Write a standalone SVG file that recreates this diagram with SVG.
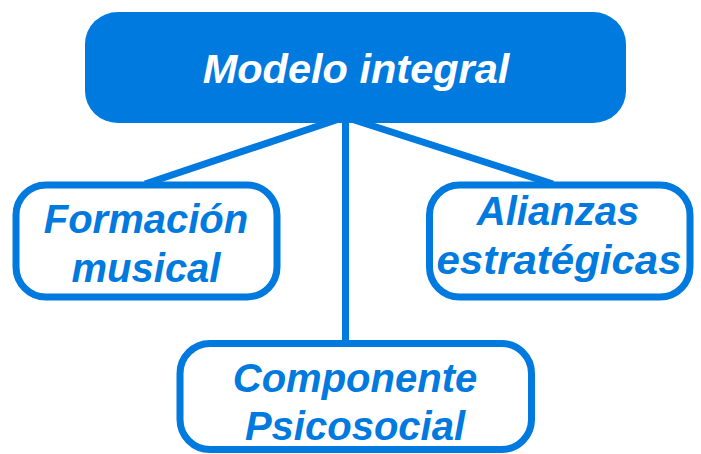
<svg xmlns="http://www.w3.org/2000/svg" width="701" height="454" viewBox="0 0 701 454">
<style>
.conn{stroke:#007ADE;stroke-width:7;fill:none}
.box{fill:#fff;stroke:#007ADE;stroke-width:7}
.t{font-family:"Liberation Sans",Arial,sans-serif;font-style:italic;font-weight:bold;font-size:40px;fill:#007ADE;text-anchor:middle}
.tw{font-family:"Liberation Sans",Arial,sans-serif;font-style:italic;font-weight:bold;font-size:41.5px;fill:#fff;text-anchor:middle}
</style>
<rect width="701" height="454" fill="#fff"/>
<g id="connectors">
<line class="conn" x1="345" y1="117" x2="145" y2="184"/>
<line class="conn" x1="345" y1="117" x2="553" y2="184"/>
<line class="conn" x1="345.5" y1="117" x2="345.5" y2="344"/>
</g>
<g id="modelo">
<rect x="85" y="12" width="541" height="111" rx="33" ry="32" fill="#007ADE"/>
<text class="tw" x="356" y="83">Modelo integral</text>
</g>
<g id="formacion">
<rect class="box" x="16" y="185" width="261" height="112" rx="30"/>
<text class="t" x="146" y="232.5">Formación</text>
<text class="t" x="146" y="282">musical</text>
</g>
<g id="alianzas">
<rect class="box" x="429.5" y="185" width="260.5" height="112" rx="30"/>
<text class="t" x="558" y="225">Alianzas</text>
<text class="t" x="559" y="274" textLength="245" lengthAdjust="spacingAndGlyphs">estratégicas</text>
</g>
<g id="componente">
<rect class="box" x="180" y="343.5" width="351.5" height="106" rx="30"/>
<text class="t" x="355" y="391.5" font-size="41">Componente</text>
<text class="t" x="355" y="440" font-size="41">Psicosocial</text>
</g>
</svg>
